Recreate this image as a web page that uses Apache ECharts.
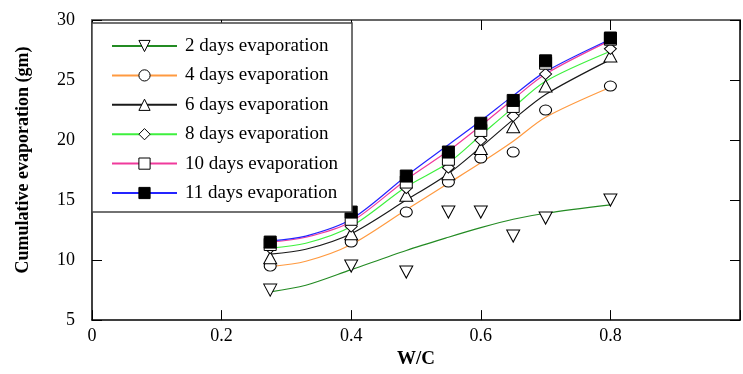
<!DOCTYPE html>
<html>
<head>
<meta charset="utf-8">
<script src="https://cdn.jsdelivr.net/npm/echarts@6/dist/echarts.min.js"></script>
<style>
  html, body { margin: 0; padding: 0; background: #fff; }
  #chart { width: 743px; height: 374px; }
</style>
</head>
<body>
<div id="chart"></div>
<script>
// measured points (W/C ratio)
const wcRatio = [0.275, 0.4, 0.485, 0.55, 0.6, 0.65, 0.7, 0.8];
const day2 = [7.5, 9.5, 9.0, 14.0, 14.0, 12.0, 13.5, 15.0];
const day4 = [9.5, 11.5, 14.0, 16.5, 18.5, 19.0, 22.5, 24.5];
const day6 = [10.2, 12.2, 15.4, 17.2, 19.3, 21.1, 24.5, 27.0];
const day8 = [11.0, 12.8, 16.0, 17.7, 20.0, 22.0, 25.5, 27.6];
const day10 = [11.3, 13.4, 16.5, 18.4, 20.8, 22.8, 26.4, 28.4];
const day11 = [11.5, 14.0, 17.0, 19.0, 21.4, 23.3, 26.6, 28.5];

// fitted curves
const fitX = [0.275, 0.33, 0.4, 0.485, 0.55, 0.6, 0.65, 0.7, 0.8];
const fit2 = [7.35, 7.9, 9.2, 10.8, 11.9, 12.7, 13.4, 13.9, 14.6];
const fit4 = [9.45, 9.9, 11.3, 14.2, 16.4, 18.1, 19.9, 21.9, 24.4];
const fit6 = [10.5, 10.9, 12.2, 15.0, 17.2, 19.4, 21.7, 23.8, 26.7];
const fit8 = [11.0, 11.4, 12.8, 16.1, 18.1, 20.4, 22.7, 24.9, 27.4];
const fit10 = [11.5, 11.9, 13.2, 16.7, 19.1, 21.2, 23.4, 25.5, 28.3];
const fit11 = [11.6, 12.0, 13.4, 17.0, 19.6, 21.6, 23.7, 25.7, 28.4];

const names = [
  '2 days evaporation',
  '4 days evaporation',
  '6 days evaporation',
  '8 days evaporation',
  '10 days evaporation',
  '11 days evaporation',
];

const serif = 'Liberation Serif';
const downTri = 'path://M0,0L12,0L6,11Z';

const groups = [
  { pts: day2, fit: fit2, line: '#238b23', symbol: downTri, size: [13, 12], fill: '#fff' },
  { pts: day4, fit: fit4, line: '#ff9a40', symbol: 'circle', size: [12, 10], fill: '#fff' },
  { pts: day6, fit: fit6, line: '#1a1a1a', symbol: 'triangle', size: [13, 12], fill: '#fff' },
  { pts: day8, fit: fit8, line: '#3ef03e', symbol: 'diamond', size: [12, 11], fill: '#fff' },
  { pts: day10, fit: fit10, line: '#f03a9c', symbol: 'rect', size: [12, 12], fill: '#fff' },
  { pts: day11, fit: fit11, line: '#2424ff', symbol: 'rect', size: [12, 12], fill: '#000' },
];

const lineSeries = groups.map((g, i) => ({
  name: names[i],
  type: 'line',
  xAxisIndex: 0,
  yAxisIndex: 0,
  smooth: 0.3,
  showSymbol: false,
  symbol: g.symbol,
  symbolSize: g.size,
  lineStyle: { color: g.line, width: 1.2 },
  itemStyle: { color: g.fill, borderColor: '#000', borderWidth: 1 },
  z: 2,
  data: g.fit.map((v, k) => [fitX[k], v]),
}));

const markerSeries = groups.map((g, i) => ({
  name: names[i],
  type: 'scatter',
  xAxisIndex: 0,
  yAxisIndex: 0,
  symbol: g.symbol,
  symbolSize: g.size,
  itemStyle: { color: g.fill, borderColor: '#000', borderWidth: 1, opacity: 1 },
  z: 3,
  data: g.pts.map((v, k) => [wcRatio[k], v]),
}));

const axisFont = { fontFamily: serif, fontSize: 18, color: '#000' };

const chart = echarts.init(document.getElementById('chart'));
chart.setOption({
  animation: false,
  backgroundColor: '#fff',
  grid: { left: 92, right: -5, top: 20, bottom: 48.5 },
  legend: {
    data: names,
    orient: 'vertical',
    left: 92,
    top: 23,
    padding: [13, 14, 9, 19],
    itemWidth: 65,
    itemHeight: 14,
    itemGap: 9.4,
    backgroundColor: '#fff',
    borderColor: '#444',
    borderWidth: 1.5,
    borderRadius: 0,
    itemStyle: { borderWidth: 1 },
    textStyle: {
      fontFamily: serif,
      fontSize: 19,
      lineHeight: 20,
      color: '#000',
      padding: [0, 0, 0, 3],
    },
    z: 10,
  },
  xAxis: [
    {
      type: 'value',
      min: 0,
      max: 1,
      interval: 0.2,
      name: 'W/C',
      nameLocation: 'middle',
      nameGap: 28,
      nameTextStyle: { fontFamily: serif, fontSize: 19, fontWeight: 'bold', color: '#000' },
      axisLine: { onZero: false, lineStyle: { color: '#000', width: 1.5 } },
      axisTick: { inside: true, length: 10, lineStyle: { color: '#000' } },
      axisLabel: {
        ...axisFont,
        margin: 7,
        formatter: (v) => (v >= 1 ? '' : String(v)),
      },
      splitLine: { show: false },
    },
    {
      type: 'value',
      position: 'top',
      min: 0,
      max: 1,
      interval: 0.2,
      axisLine: { onZero: false, lineStyle: { color: '#666', width: 2 } },
      axisTick: { inside: true, length: 10, lineStyle: { color: '#000' } },
      axisLabel: { show: false },
      splitLine: { show: false },
    },
  ],
  yAxis: [
    {
      type: 'value',
      min: 5,
      max: 30,
      interval: 5,
      name: 'Cumulative evaporation (gm)',
      nameLocation: 'middle',
      nameGap: 60,
      nameTextStyle: {
        fontFamily: serif,
        fontSize: 18,
        fontWeight: 'bold',
        color: '#000',
        padding: [0, 0, 0, 20],
      },
      axisLine: { onZero: false, lineStyle: { color: '#000', width: 1.5 } },
      axisTick: { inside: true, length: 10, lineStyle: { color: '#000' } },
      axisLabel: { ...axisFont, margin: 17 },
      splitLine: { show: false },
    },
    {
      type: 'value',
      position: 'right',
      min: 5,
      max: 30,
      interval: 5,
      axisLine: { onZero: false, lineStyle: { color: '#000', width: 1.5 } },
      axisTick: { inside: true, length: 10, lineStyle: { color: '#000' } },
      axisLabel: { show: false },
      splitLine: { show: false },
    },
  ],
  series: [...lineSeries, ...markerSeries],
});
</script>
</body>
</html>
